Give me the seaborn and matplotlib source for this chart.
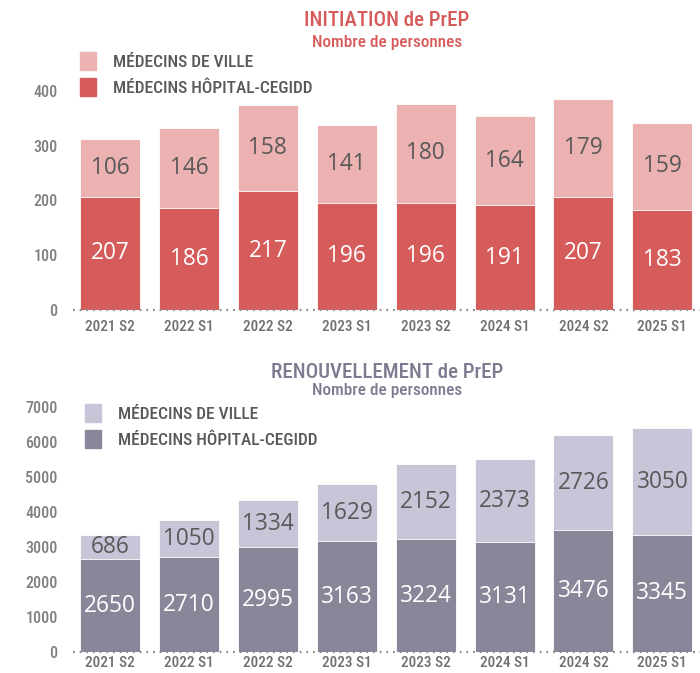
import matplotlib
matplotlib.use('Agg')
import matplotlib.pyplot as plt
from matplotlib.patches import Patch
import seaborn as sns
import pandas as pd

sns.set_style('white')
COND = ['Roboto Condensed', 'Roboto', 'DejaVu Sans']
NUM = ['Open Sans', 'DejaVu Sans']
plt.rcParams['font.family'] = COND

# Data
periods = ['2021 S2', '2022 S1', '2022 S2', '2023 S1', '2023 S2', '2024 S1', '2024 S2', '2025 S1']
init_hopital = [207, 186, 217, 196, 196, 191, 207, 183]
init_ville = [106, 146, 158, 141, 180, 164, 179, 159]
renou_hopital = [2650, 2710, 2995, 3163, 3224, 3131, 3476, 3345]
renou_ville = [686, 1050, 1334, 1629, 2152, 2373, 2726, 3050]

W, H = 700, 673
fig = plt.figure(figsize=(W / 100, H / 100), dpi=100)


def px_axes(left, top, right, bottom):
    return fig.add_axes([left / W, 1 - bottom / H, (right - left) / W, (bottom - top) / H])


def stacked(ax, hop, ville, c_dark, c_light, ymax, step, xpad):
    df = pd.DataFrame({'periode': periods, 'hop': hop, 'ville': ville})
    df['total'] = df.hop + df.ville
    sns.barplot(data=df, x='periode', y='total', color=c_light, width=0.76,
                saturation=1, edgecolor='white', linewidth=0.6, ax=ax)
    sns.barplot(data=df, x='periode', y='hop', color=c_dark, width=0.76,
                saturation=1, edgecolor='white', linewidth=0.6, ax=ax)
    for i, row in df.iterrows():
        ax.text(i, row.hop / 2, f'{row.hop}', ha='center', va='center',
                color='white', fontsize=16.3, family=NUM)
        ax.text(i, row.hop + row.ville / 2, f'{row.ville}', ha='center', va='center',
                color='#595959', fontsize=16.3, family=NUM)
    ax.set_xlim(-0.47, 7.49)
    ax.set_ylim(0, ymax)
    ax.set_yticks(range(0, ymax + 1, step))
    ax.set(xlabel='', ylabel='')
    sns.despine(ax=ax, left=True, bottom=True)
    ax.axhline(0, color='#8a8a8a', linewidth=1.6, linestyle=(0, (0.8, 2.2)), clip_on=False)
    ax.tick_params(axis='both', length=0, colors='#808080', labelsize=11.5)
    ax.tick_params(axis='x', pad=xpad, colors='#707070', labelsize=11)
    ax.tick_params(axis='y', pad=11)
    for lab in ax.get_xticklabels() + ax.get_yticklabels():
        lab.set_fontweight('medium')


def legend(colors, x, y):
    fig.legend(handles=[Patch(color=colors[0], label='MÉDECINS DE VILLE'),
                        Patch(color=colors[1], label='MÉDECINS HÔPITAL-CEGIDD')],
               loc='upper left', bbox_to_anchor=(x / W, 1 - y / H), frameon=False,
               handlelength=0.9, handleheight=1.2, handletextpad=1.0, labelspacing=0.5,
               borderaxespad=0, borderpad=0,
               prop={'family': COND, 'size': 12.5, 'weight': 'medium'}, labelcolor='#595959')


# Initiation
ax1 = px_axes(73, 91, 701, 310)
stacked(ax1, init_hopital, init_ville, '#d65c5c', '#ecb1b1', 400, 100, 7)
fig.text(387 / W, 1 - 21 / H, 'INITIATION de PrEP', ha='center', va='center',
         color='#d65c5c', fontsize=15, fontweight='medium')
fig.text(387 / W, 1 - 42 / H, 'Nombre de personnes', ha='center', va='center',
         color='#d65c5c', fontsize=12.3, fontweight='medium')
legend(['#ecb1b1', '#d65c5c'], 80, 52)

# Renouvellement
ax2 = px_axes(73, 407, 701, 652)
stacked(ax2, renou_hopital, renou_ville, '#878799', '#c6c6d8', 7000, 1000, 3)
fig.text(387 / W, 1 - 372 / H, 'RENOUVELLEMENT de PrEP', ha='center', va='center',
         color='#7c7c90', fontsize=15, fontweight='medium')
fig.text(387 / W, 1 - 390 / H, 'Nombre de personnes', ha='center', va='center',
         color='#7c7c90', fontsize=12.3, fontweight='medium')
legend(['#c6c6d8', '#878799'], 85, 404)

fig.savefig('out.png', dpi=100)
